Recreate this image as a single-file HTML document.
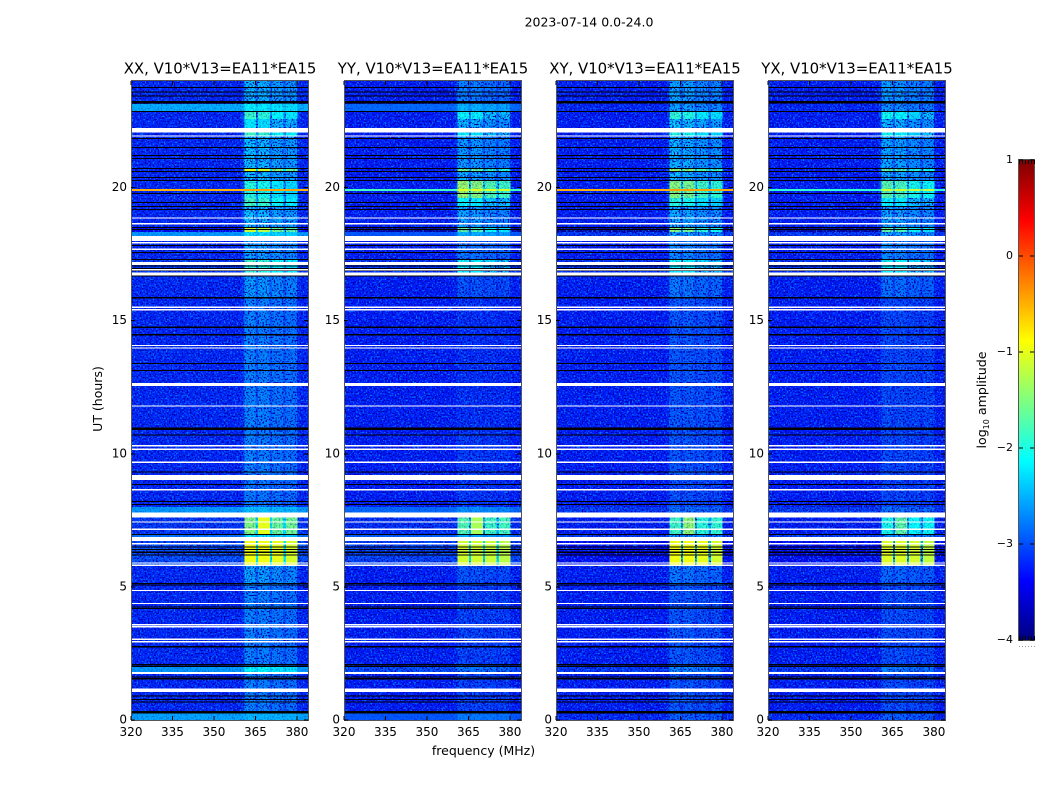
<!DOCTYPE html>
<html>
<head>
<meta charset="utf-8">
<title>Spectrogram panels</title>
<style>
html,body{margin:0;padding:0;background:#fff}
svg{display:block}
text{font-family:"DejaVu Sans","Liberation Sans",sans-serif;fill:#000}
</style>
</head>
<body>
<svg id="figure" xmlns="http://www.w3.org/2000/svg" width="1050" height="800" viewBox="0 0 1050 800">
  <defs>
    <filter id="grainLight" x="0" y="0" width="1" height="1" color-interpolation-filters="sRGB">
      <feTurbulence type="fractalNoise" baseFrequency="0.62" numOctaves="1" seed="7"/>
      <feColorMatrix type="matrix" values="0 0 0 0 0  0 0 0 0 0.5  0 0 0 0 1  5 0 0 0 -2.6"/>
    </filter>
    <filter id="grainDark" x="0" y="0" width="1" height="1" color-interpolation-filters="sRGB">
      <feTurbulence type="fractalNoise" baseFrequency="0.62" numOctaves="1" seed="23"/>
      <feColorMatrix type="matrix" values="0 0 0 0 0  0 0 0 0 0  0 0 0 0 0.66  0 6 0 0 -3.1"/>
    </filter>
    <filter id="grainCyan" x="0" y="0" width="1" height="1" color-interpolation-filters="sRGB">
      <feTurbulence type="fractalNoise" baseFrequency="0.55" numOctaves="1" seed="41"/>
      <feColorMatrix type="matrix" values="0 0 0 0 0  0 0 0 0 0.75  0 0 0 0 0.95  4 0 0 0 -2.1"/>
    </filter>
  </defs>
  <text x="589" y="26.5" font-size="12.5" text-anchor="middle">2023-07-14 0.0-24.0</text>
  <text x="483.5" y="755" font-size="12.5" text-anchor="middle">frequency (MHz)</text>
  <text transform="translate(102,399) rotate(-90)" font-size="12.5" text-anchor="middle">UT (hours)</text>
  <text transform="translate(986,400) rotate(-90)" font-size="12.6" text-anchor="middle">log<tspan font-size="8" dy="3">10</tspan><tspan dy="-3"> amplitude</tspan></text>
</svg>
<script>
// ---- Data ----
const panelNames = ['XX', 'YY', 'XY', 'YX'];
const xTicks = [320, 335, 350, 365, 380];
const yTicks = [0, 5, 10, 15, 20];
const colorTicks = [1, 0, -1, -2, -3, -4];
const colorTickLabels = ['1', '0', '\u22121', '\u22122', '\u22123', '\u22124'];

// Time bands, hours (edges ascending). One value per band in each array below.
const bandEdges = [0, 0.25, 1.8, 2.0, 5.08, 5.81, 6.72, 6.95, 7.6, 8.0, 9.0, 11.0, 15.84, 16.65, 17.09, 17.28, 17.99, 18.18, 18.33, 18.48, 19.27, 19.6, 20.24, 20.58, 20.69, 21.93, 22.23, 22.57, 22.84, 23.13, 24];
// Which spectral shape each band uses: 0 quiet, 1 uneven flare, 2 flat flare
const bandShape = [0,0,0,0,0,2,0,1,0,0,0,0,0,0,0,0,0,0,0,0,0,0,0,0,0,0,0,0,0,0];

// Background log10 amplitude per band
const bgXX = [-2.55,-3.2,-2.6,-3.2,-3.2,-3.0,-2.8,-3.1,-2.6,-3.2,-3.2,-3.2,-3.2,-3.1,-3.1,-3.2,-3.2,-2.6,-3.4,-3.2,-3.2,-3.2,-3.2,-3.2,-3.2,-3.2,-3.2,-3.2,-2.5,-3.2];
const bgYY = [-2.95,-3.25,-3.0,-3.25,-3.25,-3.05,-2.9,-3.15,-2.85,-3.25,-3.25,-3.25,-3.25,-3.15,-3.15,-3.25,-3.25,-2.95,-3.85,-3.25,-3.25,-3.25,-3.25,-3.25,-3.25,-3.25,-3.25,-3.25,-2.85,-3.25];
const bgXY = [-3.2,-3.25,-3.1,-3.25,-3.25,-3.35,-3.1,-3.25,-3.1,-3.25,-3.25,-3.25,-3.25,-3.15,-3.15,-3.25,-3.25,-3.1,-3.85,-3.25,-3.25,-3.25,-3.25,-3.25,-3.25,-3.25,-3.25,-3.25,-3.2,-3.25];
const bgYX = [-3.2,-3.25,-3.1,-3.25,-3.25,-3.35,-3.1,-3.25,-3.1,-3.25,-3.25,-3.25,-3.25,-3.15,-3.15,-3.25,-3.25,-3.1,-3.85,-3.25,-3.25,-3.25,-3.25,-3.25,-3.25,-3.25,-3.25,-3.25,-3.2,-3.25];

// Rise of the 361-380 MHz windows above background, per band
const winXX = [0.1,0.5,0.5,0.5,0.7,2.05,0.6,2.1,0.2,0.45,0.5,0.5,0.65,1.2,1.3,0.7,0.7,0.4,2.3,0.85,1.4,1.25,0.85,2.2,0.85,1.4,1.0,1.35,0.35,0.8];
const winYY = [0.2,0.2,0.25,0.2,0.3,1.95,0.4,1.85,0.2,0.12,0.15,0.08,0.3,1.0,1.1,0.5,0.5,0.5,2.2,0.75,1.15,1.9,0.8,1.7,0.7,1.1,0.85,1.15,0.4,0.55];
const winXY = [0.3,0.3,0.45,0.3,0.5,2.4,0.5,1.85,0.3,0.25,0.3,0.3,0.5,1.0,1.1,0.6,0.6,0.6,2.4,0.8,1.3,1.8,0.85,1.9,0.85,1.3,0.95,1.35,0.7,0.75];
const winYX = [0.3,0.25,0.4,0.25,0.4,2.3,0.5,1.6,0.3,0.2,0.22,0.22,0.45,1.0,1.1,0.6,0.6,0.6,2.2,0.75,1.1,1.55,0.8,1.6,0.75,1.2,0.85,1.2,0.6,0.7];

// Spectral shape, one value per MHz channel from 320 to 383
const shapeQuiet = [0,0,0,0,0,0,0,0,0,0,0,0,0,0,0,0,0,0,0,0,0,0,0,0,0,0,0,0,0,0,0,0,0,0,0,0,0,0,0,0,0.15,1,1,1,1,0.5,0.95,0.95,0.95,0.95,0.5,0.8,0.8,0.8,0.8,0.45,0.75,0.75,0.75,0.75,0.1,0,0,0];
const shapeUneven = [0,0,0,0,0,0,0,0,0,0,0,0,0,0,0,0,0,0,0,0,0,0,0,0,0,0,0,0,0,0,0,0,0,0,0,0,0,0,0,0,0,0.78,0.78,0.78,0.78,0.4,1,1,1,1,0.4,0.72,0.72,0.72,0.72,0.4,0.74,0.74,0.74,0.74,0,0,0,0];
const shapeFlat = [0,0,0,0,0,0,0,0,0,0,0,0,0,0,0,0,0,0,0,0,0,0,0,0,0,0,0,0,0,0,0,0,0,0,0,0,0,0,0,0,0,1,1,1,1,0.4,1,1,1,1,0.4,0.98,0.98,0.98,0.98,0.4,0.94,0.94,0.94,0.94,0,0,0,0];

// Strong interference row: level outside the windows and rise inside them
const rfiTime = [19.86];
const rfiLevel = [-0.5, -1.8, -0.5, -1.9];
const rfiRise = [0.1, 0.8, 0.1, 0.8];

// Spectral windows, MHz
const windowStart = [361, 366, 371, 376];
const windowEnd = [365, 370, 375, 380];
// How much speckle each polarisation shows inside the windows
const windowSpeckle = [0.4, 0.08, 0.22, 0.15];

// Flagged rows, hours: white = no data, black = dropped to zero
const whiteSpans = [[22.07,22.23],[17.99,18.18],[17.09,17.21],[16.69,16.8],[9.01,9.21],[7.6,7.8],[6.72,6.88],[1.73,1.8],[1.06,1.18]];
const whiteTimes = [21.91,18.83,18.61,17.9,17.66,16.88,15.48,15.38,14.04,13.95,12.6,12.55,11.77,10.28,10.15,9.66,8.62,7.41,7.14,6.59,5.87,5.79,4.84,4.35,3.55,3.48,3.01,2.91];
const blackTimes = [23.73,23.56,23.41,23.2,23.15,22.84,21.82,21.48,21.18,21.07,20.69,20.58,20.36,20.24,19.76,19.42,19.27,19.15,18.48,18.4,17.8,17.54,17.28,17.03,16.94,16.86,16.65,15.84,14.73,14.45,13.37,13.11,10.95,10.9,10.68,9.29,8.83,8.19,8.08,6.95,6.47,6.38,6.28,6.17,5.1,5.05,4.22,4.17,2.73,2.07,2.0,1.6,1.53,0.88,0.75,0.66,0.29,0.24];

// ---- Layout and axis functions ----
const panelLeft = [131, 344, 556, 768];
const panelWidth = 177, plotTop = 81, plotBottom = 720;
const freqMin = 320, freqMax = 384, hourMax = 24;
const blackHours = 0.04, whiteHours = 0.05, rfiHours = 0.08;
const bgByPanel = [bgXX, bgYY, bgXY, bgYX];
const winByPanel = [winXX, winYY, winXY, winYX];
const shapes = [shapeQuiet, shapeUneven, shapeFlat];
const xOf = (f, p) => panelLeft[p] + (f - freqMin) / (freqMax - freqMin) * panelWidth;
const yOf = t => plotBottom - t / hourMax * (plotBottom - plotTop);
const barTop = 160, barBottom = 640, barLeft = 1019, barWidth = 15, vMin = -4, vMax = 1;
const yOfValue = v => barBottom - (v - vMin) / (vMax - vMin) * (barBottom - barTop);

function jet(v) {
  const x = Math.max(0, Math.min(1, (v - vMin) / (vMax - vMin)));
  const c = u => Math.round(255 * Math.max(0, Math.min(1, u)));
  return 'rgb(' + c(Math.min(4 * x - 1.5, 4.5 - 4 * x)) + ',' + c(Math.min(4 * x - 0.5, 3.5 - 4 * x)) + ',' + c(Math.min(4 * x + 0.5, 2.5 - 4 * x)) + ')';
}

const SVG_NS = 'http://www.w3.org/2000/svg';
const fig = document.getElementById('figure');
function make(tag, parent) {
  const el = document.createElementNS(SVG_NS, tag);
  parent.appendChild(el);
  return el;
}
function setRect(el, x, y, w, h, fill) {
  el.setAttribute('x', x);
  el.setAttribute('y', y);
  el.setAttribute('width', w);
  el.setAttribute('height', h);
  el.setAttribute('fill', fill);
  el.setAttribute('shape-rendering', 'crispEdges');
}
function setLine(el, x1, y1, x2, y2, stroke) {
  el.setAttribute('x1', x1);
  el.setAttribute('y1', y1);
  el.setAttribute('x2', x2);
  el.setAttribute('y2', y2);
  el.setAttribute('stroke', stroke);
  el.setAttribute('stroke-width', '1');
  el.setAttribute('shape-rendering', 'crispEdges');
}
function setText(el, x, y, size, anchor, str) {
  el.setAttribute('x', x);
  el.setAttribute('y', y);
  el.setAttribute('font-size', size);
  el.setAttribute('text-anchor', anchor);
  el.textContent = str;
}

// ---- Panels ----
panelNames.forEach(function (name, p) {
  const group = make('g', fig);
  
  

  const title = make('text', group);
  setText(title, panelLeft[p] + panelWidth / 2 + 0.5, 73.5, 14.9, 'middle', name + ', V10*V13=EA11*EA15');
  
  

  // Three tiers stacked so bright emission carries less speckle than faint emission
  const noisy = make('g', group);
  
  

  const grain = make('g', group);
  
  

  const mid = make('g', group);
  
  

  const midGrain = make('g', group);
  
  
  midGrain.setAttribute('opacity', '0.35');

  const bright = make('g', group);
  
  

  for (let b = 0; b < bandEdges.length - 1; b++) {
    const bg = bgByPanel[p][b], win = winByPanel[p][b], shape = shapes[bandShape[b]];
    const y1 = yOf(bandEdges[b + 1]), y0 = yOf(bandEdges[b]);
    for (let c = 0; c < shape.length; c++) {
      const value = bg + shape[c] * win;
      const layer = value > -1.3 ? bright : (value > -2.3 || bg > -3.0 ? mid : noisy);
      const cell = make('rect', layer);
      setRect(cell, xOf(freqMin + c, p), y1, panelWidth / shape.length + 0.5, y0 - y1, jet(value));
      
      
    }
  }

  const grainIds = ['grainLight', 'grainDark'];
  grainIds.forEach(function (id) {
    const overlay = make('rect', grain);
    setRect(overlay, panelLeft[p], plotTop, panelWidth, plotBottom - plotTop, '#000');
    overlay.setAttribute('filter', 'url(#' + id + ')');
    
    
    const midOverlay = make('rect', midGrain);
    setRect(midOverlay, panelLeft[p], plotTop, panelWidth, plotBottom - plotTop, '#000');
    midOverlay.setAttribute('filter', 'url(#' + id + ')');
    
    
  });
  windowStart.forEach(function (start, w) {
    const winGrain = make('rect', grain);
    setRect(winGrain, xOf(start, p), plotTop, xOf(windowEnd[w], p) - xOf(start, p), plotBottom - plotTop, '#000');
    winGrain.setAttribute('filter', 'url(#grainCyan)');
    winGrain.setAttribute('opacity', windowSpeckle[p]);
    
    
  });

  // Interference row: across the band, brighter inside the windows
  rfiTime.forEach(function (t) {
    for (let c = 0; c < shapeFlat.length; c++) {
      const row = make('rect', group);
      setRect(row, xOf(freqMin + c, p), yOf(t + rfiHours), panelWidth / shapeFlat.length + 0.5, yOf(t) - yOf(t + rfiHours), jet(rfiLevel[p] + shapeFlat[c] * rfiRise[p]));
      
      
    }
  });

  // Flagged rows
  blackTimes.forEach(function (t) {
    const row = make('rect', group);
    setRect(row, panelLeft[p], yOf(t + blackHours), panelWidth, yOf(t) - yOf(t + blackHours), '#000');
    
    
  });
  whiteTimes.forEach(function (t) {
    const row = make('rect', group);
    setRect(row, panelLeft[p], yOf(t + whiteHours), panelWidth, yOf(t) - yOf(t + whiteHours), '#fff');
    
    
  });
  whiteSpans.forEach(function (span) {
    const row = make('rect', group);
    setRect(row, panelLeft[p], yOf(span[1]), panelWidth, yOf(span[0]) - yOf(span[1]), '#fff');
    
    
  });

  // Frame
  const frame = make('rect', group);
  frame.setAttribute('x', panelLeft[p] + 0.5);
  frame.setAttribute('y', plotTop - 0.5);
  frame.setAttribute('width', panelWidth);
  frame.setAttribute('height', plotBottom - plotTop + 1);
  frame.setAttribute('fill', 'none');
  frame.setAttribute('stroke', '#555');
  frame.setAttribute('stroke-width', '1');
  
  

  // Ticks and labels
  xTicks.forEach(function (f) {
    const x = xOf(f, p);
    const low = make('line', group);
    setLine(low, x, plotBottom, x, plotBottom - 4, '#000');
    
    
    const high = make('line', group);
    setLine(high, x, plotTop, x, plotTop + 4, '#000');
    
    
    const label = make('text', group);
    setText(label, x, 736, 12, 'middle', String(f));
    
    
  });
  yTicks.forEach(function (t) {
    const y = yOf(t);
    const left = make('line', group);
    setLine(left, panelLeft[p], y, panelLeft[p] + 4, y, '#000');
    
    
    const right = make('line', group);
    setLine(right, panelLeft[p] + panelWidth, y, panelLeft[p] + panelWidth - 4, y, '#000');
    
    
    const label = make('text', group);
    setText(label, panelLeft[p] - 4, y + 3.5, 12, 'end', String(t));
    
    
  });
});

// ---- Colorbar ----
const bar = make('g', fig);


const barSteps = 256;
for (let i = 0; i < barSteps; i++) {
  const v0 = vMin + (vMax - vMin) * i / barSteps, v1 = vMin + (vMax - vMin) * (i + 1) / barSteps;
  const swatch = make('rect', bar);
  setRect(swatch, barLeft, yOfValue(v1), barWidth, yOfValue(v0) - yOfValue(v1) + 0.5, jet((v0 + v1) / 2));
  
  
}
const barFrame = make('rect', bar);
barFrame.setAttribute('x', barLeft - 0.5);
barFrame.setAttribute('y', barTop - 0.5);
barFrame.setAttribute('width', barWidth + 1);
barFrame.setAttribute('height', barBottom - barTop + 1);
barFrame.setAttribute('fill', 'none');
barFrame.setAttribute('stroke', '#555');


colorTicks.forEach(function (v, i) {
  const y = yOfValue(v);
  const left = make('line', bar);
  setLine(left, barLeft, y, barLeft + 4, y, '#000');
  
  
  const right = make('line', bar);
  setLine(right, barLeft + barWidth, y, barLeft + barWidth - 4, y, '#000');
  
  
  const label = make('text', bar);
  setText(label, barLeft - 6, y + 3, 11, 'end', colorTickLabels[i]);
  
  
});
// Small end ticks and the row of clipped dots under the bar
for (let i = 0; i < 6; i++) {
  const x = barLeft + 0.5 + i * 3;
  const topTick = make('line', bar);
  setLine(topTick, x, barTop, x, barTop + 4, '#000');
  
  
  const bottomTick = make('line', bar);
  setLine(bottomTick, x, barBottom, x, barBottom - 4, '#000');
  
  
  const dot = make('rect', bar);
  setRect(dot, x - 0.5, 646, 1, 1, '#999');
  
  
}
</script>
</body>
</html>
